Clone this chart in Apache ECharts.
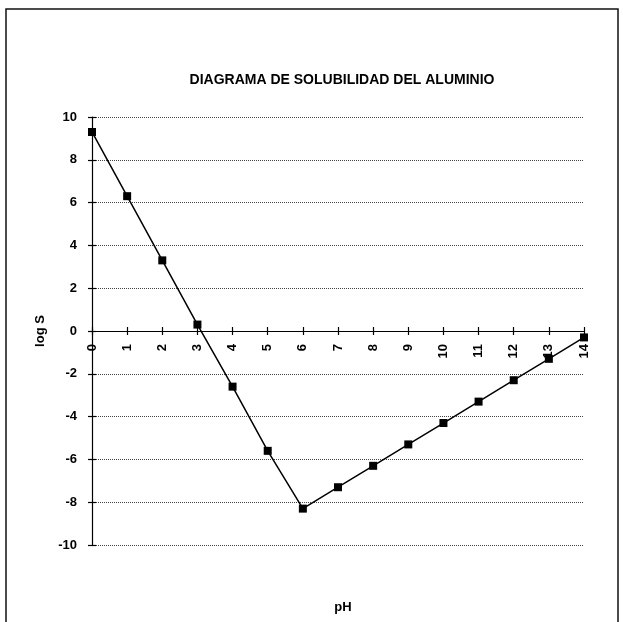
<!DOCTYPE html>
<html>
<head>
<meta charset="utf-8">
<script src="https://cdn.jsdelivr.net/npm/echarts@6/dist/echarts.min.js"></script>
<style>
  html, body { margin: 0; padding: 0; background: #fff; }
  #chart { width: 623px; height: 622px; }
</style>
</head>
<body>
<div id="chart"></div>
<script>
var pH = [0, 1, 2, 3, 4, 5, 6, 7, 8, 9, 10, 11, 12, 13, 14];
var logS = [9.3, 6.3, 3.3, 0.3, -2.6, -5.6, -8.3, -7.3, -6.3, -5.3, -4.3, -3.3, -2.3, -1.3, -0.3];
var yTicks = [-10, -8, -6, -4, -2, 0, 2, 4, 6, 8, 10];

var puntos = pH.map(function (x, i) { return [x, logS[i]]; });

var fuente = 'Liberation Sans';
var negro = '#000';

var chart = echarts.init(document.getElementById('chart'), null, { renderer: 'canvas' });

// el eje x cruza en log S = 0: una segunda rejilla (solo la mitad superior)
// lleva las etiquetas del pH justo debajo de esa línea
var option = {
    backgroundColor: '#fff',
    animation: false,
    title: [
        {
            text: 'DIAGRAMA DE SOLUBILIDAD DEL ALUMINIO',
            left: 337, top: 68, textAlign: 'center',
            textStyle: { fontFamily: fuente, fontSize: 14, fontWeight: 'bold', color: negro }
        },
        {
            text: 'pH',
            left: 338, top: 596, textAlign: 'center',
            textStyle: { fontFamily: fuente, fontSize: 13, fontWeight: 'bold', color: negro }
        }
    ],
    graphic: [{
        type: 'rect',
        shape: { x: 6, y: 9, width: 612, height: 620 },
        style: { fill: null, stroke: '#111', lineWidth: 1.5 }
    }],
    grid: [
        { left: 92, right: 39, top: 117, bottom: 77 },
        { left: 92, right: 39, top: 117, bottom: 291 }
    ],
    xAxis: [
        {
            type: 'value', min: 0, max: 14, interval: 1, gridIndex: 0,
            axisLine: { onZero: true, lineStyle: { color: negro, width: 1.2 } },
            axisTick: { inside: true, length: 4, lineStyle: { color: negro, width: 1.2 } },
            axisLabel: { show: false },
            splitLine: { show: false }
        },
        {
            type: 'value', min: 0, max: 14, interval: 1, gridIndex: 1,
            axisLine: { show: false },
            axisTick: { inside: false, length: 4, lineStyle: { color: negro, width: 1.2 } },
            axisLabel: {
                rotate: 90, margin: 13, color: negro,
                fontFamily: fuente, fontSize: 13, fontWeight: 'bold'
            },
            splitLine: { show: false }
        }
    ],
    yAxis: [
        {
            type: 'value', min: yTicks[0], max: yTicks[yTicks.length - 1], interval: 2,
            gridIndex: 0, position: 'left',
            name: 'log S', nameLocation: 'middle', nameGap: 35, nameRotate: 90,
            nameTextStyle: { fontFamily: fuente, fontSize: 13, fontWeight: 'bold', color: negro },
            axisLine: { show: true, lineStyle: { color: negro, width: 1.2 } },
            axisTick: { show: true, length: 4, lineStyle: { color: negro, width: 1.2 } },
            axisLabel: { margin: 15, color: negro, fontFamily: fuente, fontSize: 13, fontWeight: 'bold' },
            splitLine: { show: true, lineStyle: { color: '#444', type: 'dotted', width: 1 } }
        },
        {
            type: 'value', min: yTicks[0], max: yTicks[yTicks.length - 1], interval: 2,
            gridIndex: 0, position: 'left', offset: 0,
            axisLine: { show: false },
            axisTick: { show: true, inside: true, length: 4, lineStyle: { color: negro, width: 1.2 } },
            axisLabel: { show: false },
            splitLine: { show: false }
        },
        {
            type: 'value', min: 0, max: 10, gridIndex: 1, show: false
        }
    ],
    series: [{
        type: 'line',
        xAxisIndex: 0, yAxisIndex: 0,
        data: puntos,
        symbol: 'rect', symbolSize: 8,
        lineStyle: { color: negro, width: 1.5 },
        itemStyle: { color: negro }
    }]
};

chart.setOption(option);
</script>
</body>
</html>
